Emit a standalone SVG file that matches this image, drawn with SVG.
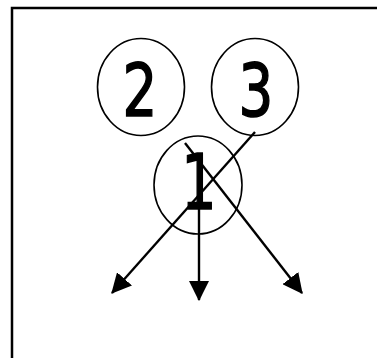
<svg xmlns="http://www.w3.org/2000/svg" width="377" height="358" viewBox="0 0 377 358">
<style>
.node ellipse{fill:none;stroke:#000;stroke-width:1.6}
.node text{font-family:"DejaVu Sans",sans-serif;font-size:73px;fill:#000;stroke:#000;stroke-width:1.6;text-anchor:middle}
.edge{stroke:#000;stroke-width:2.4;fill:none;marker-end:url(#ah)}
</style>
<defs>
<marker id="ah" markerUnits="userSpaceOnUse" markerWidth="20" markerHeight="20" viewBox="0 0 18 18" refX="17" refY="9" orient="auto">
<path d="M0,0 L18,9 L0,18 Z" fill="#000"/>
</marker>
</defs>
<rect width="377" height="358" fill="#fff"/>
<rect x="12" y="8" width="420" height="420" fill="none" stroke="#000" stroke-width="2.5"/>
<g id="node2" class="node"><ellipse cx="141" cy="87" rx="43.5" ry="48.5"/><text transform="translate(140,116) scale(0.75,1)">2</text></g>
<g id="node3" class="node"><ellipse cx="255" cy="87" rx="43.5" ry="48.5"/><text transform="translate(256,116) scale(0.75,1)">3</text></g>
<g id="node1" class="node"><ellipse cx="198" cy="185" rx="44" ry="49"/><text transform="translate(199,209) scale(0.72,1)" style="font-size:77px">1</text></g>
<g id="connectors">
<line class="edge" x1="255" y1="132" x2="112" y2="293"/>
<line class="edge" x1="185" y1="143" x2="302" y2="293"/>
<line class="edge" x1="199" y1="207" x2="199" y2="300"/>
</g>
</svg>
